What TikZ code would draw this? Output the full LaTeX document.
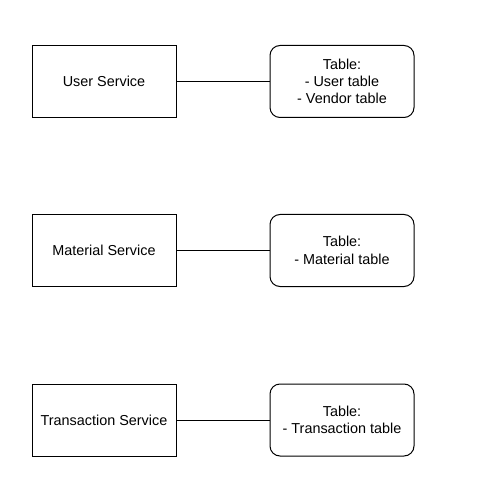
\documentclass[tikz,border=0pt]{standalone}
\usepackage{fontspec}
\setmainfont{Liberation Sans}
\usetikzlibrary{positioning}
\begin{document}
\begin{tikzpicture}[x=1pt,y=-1pt,
        service/.style={draw,line width=1pt,minimum width=144pt,minimum height=72pt,
            inner sep=0pt,align=center,font=\fontsize{14.4}{17.3}\selectfont},
        tablebox/.style={service,rounded corners=10pt},
        link/.style={line width=1pt}]
                \useasboundingbox (0,0) rectangle (495,502);
                \node[service] (User) at (104,81.5) {User Service};
                \node[tablebox,right=93pt of User] (UserTab) {Table:\\- User table\\- Vendor table};
                \node[service] (Material) at (104,250.5) {Material Service};
                \node[tablebox,right=93pt of Material] (MaterialTab) {Table:\\- Material table};
                \node[service] (Transaction) at (104,420) {Transaction Service};
                \node[tablebox,right=93pt of Transaction] (TransactionTab) {Table:\\- Transaction table};
                %links
                \draw[link] (User) -- (UserTab);
                \draw[link] (Material) -- (MaterialTab);
                \draw[link] (Transaction) -- (TransactionTab);
            \end{tikzpicture}
\end{document}
